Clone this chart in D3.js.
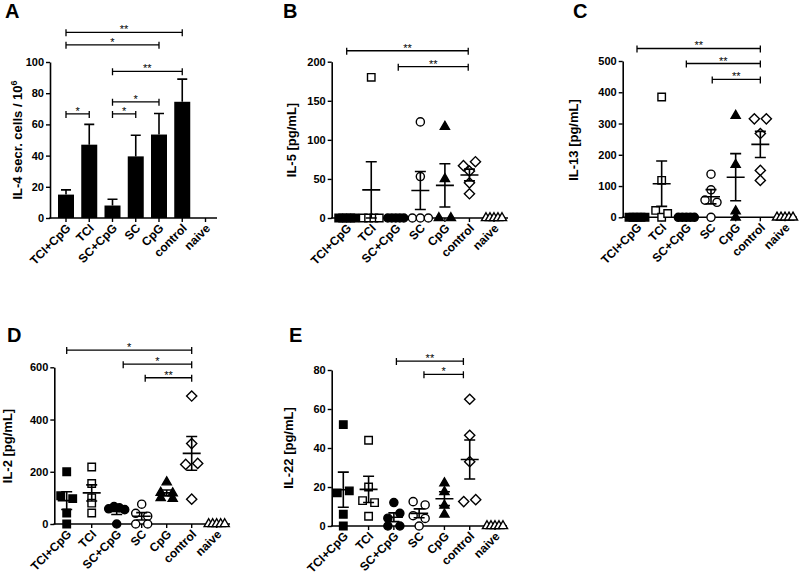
<!DOCTYPE html>
<html><head><meta charset="utf-8">
<script src="https://cdn.jsdelivr.net/npm/d3@7"></script>
<style>body{margin:0;background:#fff}</style>
</head><body><svg id="c" width="800" height="581" style="display:block;background:#fff"></svg>
<script>
// ---------------- DATA ----------------
const categories = ["TCI+CpG","TCI","SC+CpG","SC","CpG","control","naive"];

// Panel A: IL-4 secreting cells / 10^6 (bar = mean, error = SEM)
const il4Mean = [15, 47, 8, 39.5, 53.5, 74.5, 0];
const il4Sem  = [3, 13, 4, 13.5, 13.5, 14.5, 0];
const il4Ticks = [0, 20, 40, 60, 80, 100];
const il4BracketFrom  = [0, 0, 2, 2, 2, 0];
const il4BracketTo    = [5, 4, 5, 4, 3, 1];
const il4BracketLabel = ["**", "*", "**", "*", "*", "*"];
const il4BracketLevel = [119, 111, 94, 74.5, 66.7, 66.7];

// Panel B: IL-5 [pg/mL]
const il5Values = [
  [0,0,0,0,0],
  [180,0,0,0,0],
  [0,0,0,0,0],
  [123,53,0,0,0],
  [117,50,0,0],
  [67,72,60,45,31],
  [0,0,0,0,0]
];
const il5Ticks = [0, 50, 100, 150, 200];
const il5BracketFrom  = [0, 2.1];
const il5BracketTo    = [4.95, 4.95];
const il5BracketLabel = ["**", "**"];
const il5BracketLevel = [214, 193.6];

// Panel C: IL-13 [pg/mL]
const il13Values = [
  [0,0,0,0,0],
  [385,118,22,0,12],
  [0,0,0,0,0],
  [138,88,55,48,0],
  [325,168,0,20],
  [315,315,268,150,118],
  [0,0,0,0,0]
];
const il13Ticks = [0, 100, 200, 300, 400, 500];
const il13BracketFrom  = [0, 2, 3.05];
const il13BracketTo    = [5, 5, 5];
const il13BracketLabel = ["**", "**", "**"];
const il13BracketLevel = [540, 492, 441];

// Panel D: IL-2 [pg/mL]
const il2Values = [
  [200,108,97,42,0],
  [218,155,100,80,42],
  [58,67,62,55,0],
  [76,41,30,0,0],
  [160,120,118,100,97],
  [490,308,228,232,95],
  [0,0,0,0,0]
];
const il2Ticks = [0, 200, 400, 600];
const il2BracketFrom  = [0, 2.26, 3.14];
const il2BracketTo    = [5, 5, 5];
const il2BracketLabel = ["*", "*", "**"];
const il2BracketLevel = [666, 612, 560];

// Panel E: IL-22 [pg/mL]
const il22Values = [
  [52,17,18,6,0],
  [44,20,13,12,5],
  [12,4,6.5,0,0],
  [12.5,10.8,5.3,3.9,0],
  [22,17.5,10.5,6],
  [65,46.5,33,12.5,13.5],
  [0,0,0,0,0]
];
const il22Ticks = [0, 20, 40, 60, 80];
const il22BracketFrom  = [2.1, 3.19];
const il22BracketTo    = [4.75, 4.75];
const il22BracketLabel = ["**", "*"];
const il22BracketLevel = [84.6, 77.8];

// ---------------- LAYOUT ----------------
const FONT = '"Liberation Sans", Arial, Helvetica, sans-serif';
const svg = d3.select("#c");

const layouts = {
  A:{x0:50,   x1:217, c0:66,    c6:205.5, yTop:62,    yBot:218,   titleX:22,  titleY:140, letterX:5,   letterY:18},
  B:{x0:331.7,x1:508, c0:346.7, c6:494,   yTop:61.7,  yBot:218,   titleX:296, titleY:140, letterX:283, letterY:18},
  C:{x0:622.7,x1:797, c0:637,   c6:785,   yTop:61,    yBot:217.3, titleX:578, titleY:140, letterX:573, letterY:18},
  D:{x0:54.3, x1:230, c0:66.7,  c6:216.7, yTop:367.3, yBot:524,   titleX:12,  titleY:446, letterX:7,   letterY:342},
  E:{x0:331.7,x1:507, c0:343.3, c6:495,   yTop:370,   yBot:526,   titleX:293, titleY:448, letterX:289, letterY:342}
};

function frame(L, ticks, title, sup, letter) {
  const g = svg.append("g");
  const y = d3.scaleLinear().domain([0, d3.max(ticks)]).range([L.yBot, L.yTop]);
  const x = d3.scaleLinear().domain([0, categories.length - 1]).range([L.c0, L.c6]);

  const ya = g.append("g").attr("transform", `translate(${L.x0},0)`)
    .call(d3.axisLeft(y).tickValues(ticks).tickSize(4).tickSizeOuter(0).tickPadding(2));
  ya.select(".domain").attr("stroke", "#000").attr("stroke-width", 1.6);
  ya.selectAll(".tick line").attr("stroke", "#000").attr("stroke-width", 1.4);
  ya.selectAll(".tick text").attr("font-size", 11).attr("font-weight", "bold")
    .attr("font-family", FONT).attr("fill", "#000");

  g.append("line").attr("x1", L.x0 - 0.8).attr("x2", L.x1).attr("y1", L.yBot).attr("y2", L.yBot)
    .attr("stroke", "#000").attr("stroke-width", 1.6);
  g.selectAll(".xt").data(categories).join("line")
    .attr("x1", (d, i) => x(i)).attr("x2", (d, i) => x(i))
    .attr("y1", L.yBot).attr("y2", L.yBot + 4)
    .attr("stroke", "#000").attr("stroke-width", 1.4);
  g.selectAll(".xl").data(categories).join("text")
    .attr("transform", (d, i) => `translate(${x(i) + 2.5},${L.yBot + 8}) rotate(-45)`)
    .attr("text-anchor", "end").attr("dy", "0.35em")
    .attr("font-size", 12).attr("font-weight", "bold").attr("font-family", FONT)
    .text(d => d);

  const t = g.append("text")
    .attr("transform", `translate(${L.titleX},${L.titleY}) rotate(-90)`)
    .attr("text-anchor", "middle").attr("font-size", 13).attr("font-weight", "bold")
    .attr("font-family", FONT).text(title);
  if (sup) t.append("tspan").attr("dy", -5).attr("font-size", 9).text(sup);

  g.append("text").attr("x", L.letterX).attr("y", L.letterY)
    .attr("font-size", 20).attr("font-weight", "bold").attr("font-family", FONT).text(letter);
  return {g, x, y};
}

function brackets(g, x, y, from, to, labels, levels) {
  from.forEach((f, i) => {
    const xa = x(f), xb = x(to[i]), yy = y(levels[i]);
    g.append("path")
      .attr("d", `M${xa},${yy - 3}V${yy + 4}M${xa},${yy}H${xb}M${xb},${yy - 3}V${yy + 4}`)
      .attr("fill", "none").attr("stroke", "#000").attr("stroke-width", 1.3);
    g.append("text").attr("x", (xa + xb) / 2).attr("y", yy + 1)
      .attr("text-anchor", "middle").attr("font-size", 11).attr("font-family", FONT)
      .attr("fill", "#000").text(labels[i]);
  });
}

// ---------- Panel A (bars) ----------
(function () {
  const {g, x, y} = frame(layouts.A, il4Ticks, "IL-4 secr. cells / 10", "6", "A");
  const bw = 16;
  g.selectAll(".eb").data(il4Mean).join("path")
    .attr("d", (m, i) => m > 0 ? `M${x(i)},${y(m)}V${y(m + il4Sem[i])}M${x(i) - 5},${y(m + il4Sem[i])}H${x(i) + 5}` : "")
    .attr("stroke", "#000").attr("stroke-width", 1.6).attr("fill", "none");
  g.selectAll(".bar").data(il4Mean).join("rect")
    .attr("x", (m, i) => x(i) - bw / 2).attr("width", bw)
    .attr("y", m => y(m)).attr("height", m => y(0) - y(m))
    .attr("fill", "#000");
  brackets(g, x, y, il4BracketFrom, il4BracketTo, il4BracketLabel, il4BracketLevel);
})();

// ---------- Scatter panels ----------
const symbols = [
  {type: d3.symbolSquare,   size: 56, fill: "#000", rot: 0},
  {type: d3.symbolSquare,   size: 56, fill: "#fff", rot: 0},
  {type: d3.symbolCircle,   size: 52, fill: "#000", rot: 0},
  {type: d3.symbolCircle,   size: 52, fill: "#fff", rot: 0},
  {type: d3.symbolTriangle, size: 36, fill: "#000", rot: 0},
  {type: d3.symbolSquare,   size: 52, fill: "#fff", rot: 45},
  {type: d3.symbolTriangle, size: 36, fill: "#fff", rot: 0}
];

function spread(vals, y) {
  const idx = vals.map((v, i) => i).sort((a, b) => vals[b] - vals[a] || a - b);
  const rows = []; let cur = null;
  idx.forEach(i => {
    const py = y(vals[i]);
    if (cur && Math.abs(py - cur.y0) <= 5) cur.items.push(i);
    else { cur = {y0: py, items: [i]}; rows.push(cur); }
  });
  const off = new Array(vals.length).fill(0);
  rows.forEach(r => {
    r.items.sort((a, b) => a - b);
    const k = r.items.length;
    if (k < 2) return;
    const s = Math.min(12, 16 / (k - 1));
    r.items.forEach((i, j) => off[i] = (j - (k - 1) / 2) * s);
  });
  return off;
}

function scatterPanel(L, values, ticks, title, letter, bFrom, bTo, bLab, bLev) {
  const {g, x, y} = frame(L, ticks, title, null, letter);
  values.forEach((vals, ci) => {
    const sym = symbols[ci];
    const off = spread(vals, y);
    const gen = d3.symbol().type(sym.type).size(sym.size);
    g.append("g").selectAll("path").data(vals).join("path")
      .attr("d", gen)
      .attr("transform", (v, i) => `translate(${x(ci) + off[i]},${y(v)}) rotate(${sym.rot})`)
      .attr("fill", sym.fill).attr("stroke", "#000").attr("stroke-width", 1.4);
  });
  values.forEach((vals, ci) => {
    const m = d3.mean(vals);
    const sem = (d3.deviation(vals) || 0) / Math.sqrt(vals.length);
    const cx = x(ci);
    if (m <= 0) return;
    g.append("path")
      .attr("d", `M${cx - 9},${y(m)}H${cx + 9}M${cx},${y(m - sem)}V${y(m + sem)}` +
                 `M${cx - 5.5},${y(m - sem)}H${cx + 5.5}M${cx - 5.5},${y(m + sem)}H${cx + 5.5}`)
      .attr("stroke", "#000").attr("stroke-width", 1.6).attr("fill", "none");
  });
  brackets(g, x, y, bFrom, bTo, bLab, bLev);
}

scatterPanel(layouts.B, il5Values, il5Ticks, "IL-5 [pg/mL]", "B",
  il5BracketFrom, il5BracketTo, il5BracketLabel, il5BracketLevel);
scatterPanel(layouts.C, il13Values, il13Ticks, "IL-13 [pg/mL]", "C",
  il13BracketFrom, il13BracketTo, il13BracketLabel, il13BracketLevel);
scatterPanel(layouts.D, il2Values, il2Ticks, "IL-2 [pg/mL]", "D",
  il2BracketFrom, il2BracketTo, il2BracketLabel, il2BracketLevel);
scatterPanel(layouts.E, il22Values, il22Ticks, "IL-22 [pg/mL]", "E",
  il22BracketFrom, il22BracketTo, il22BracketLabel, il22BracketLevel);
</script>
</body></html>
